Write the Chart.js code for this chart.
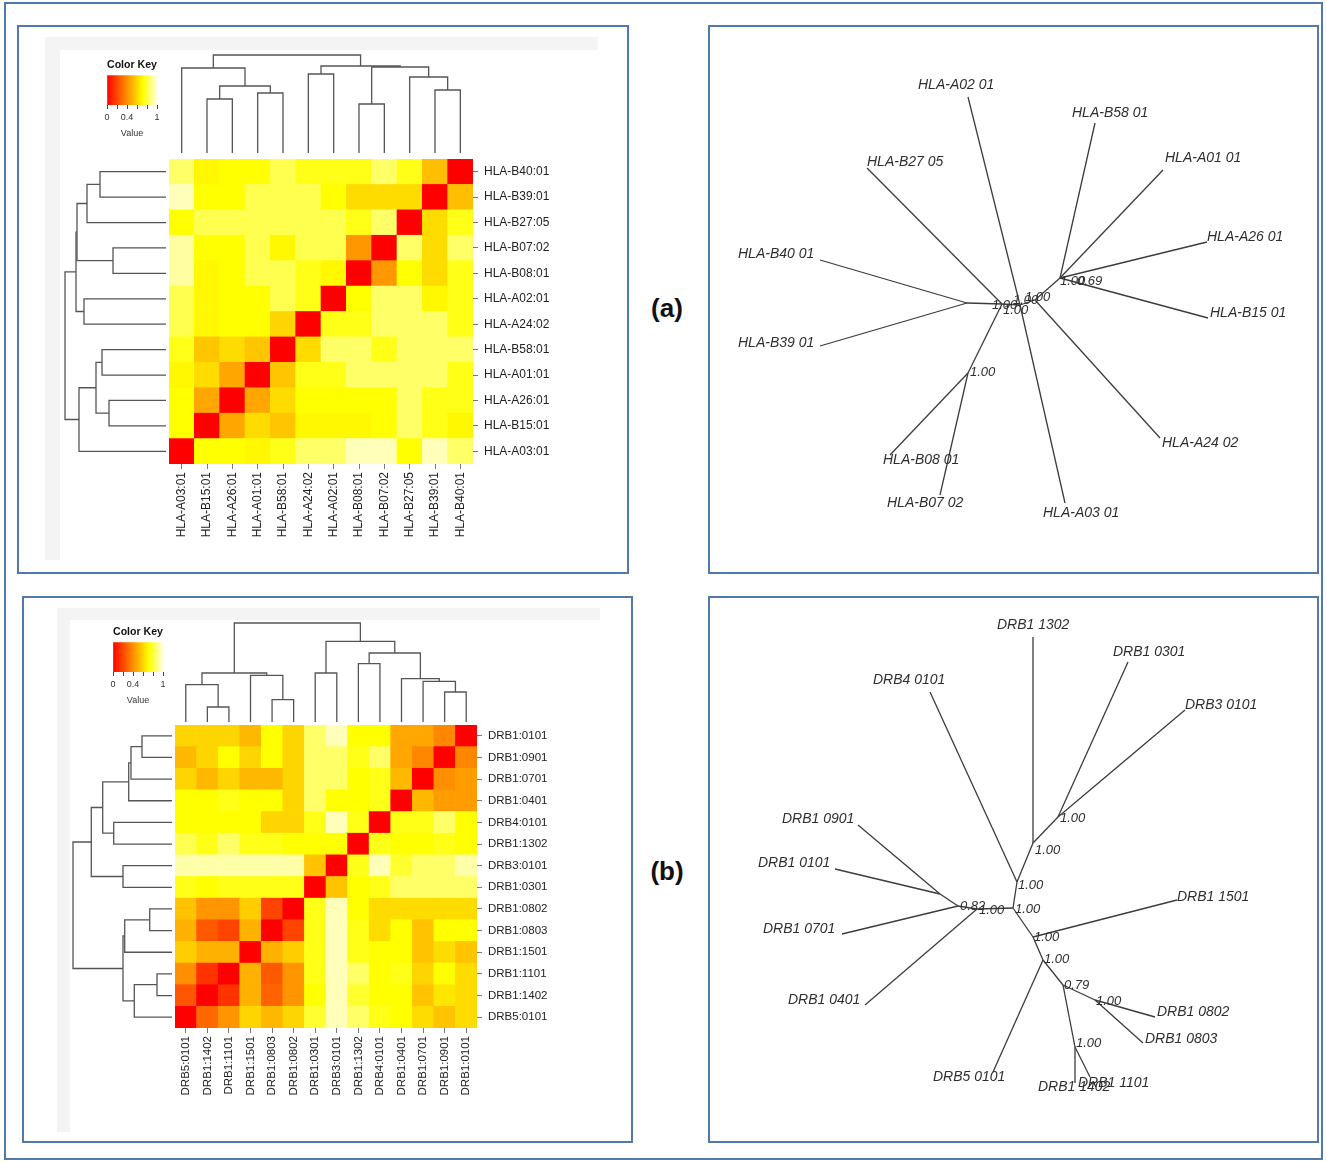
<!DOCTYPE html>
<html>
<head>
<meta charset="utf-8">
<script src="https://cdn.jsdelivr.net/npm/chart.js@4.4.0/dist/chart.umd.min.js"></script>
<style>
body { margin: 0; width: 1327px; height: 1162px; position: relative; overflow: hidden; background: #fff; font-family: "Liberation Sans", Arial, sans-serif; }
.box { position: absolute; border: 2px solid #5279ad; box-sizing: border-box; }
.abs { position: absolute; }
canvas { position: absolute; display: block; }
.tag { position: absolute; width: 60px; text-align: center; font: bold 26px "Liberation Sans", Arial, sans-serif; color: #111; }
</style>
</head>
<body>
<div class="box" style="left:4px;top:2px;width:1319px;height:1158px"></div>

<div class="abs" style="left:45px;top:37px;width:553px;height:523px;background:#f4f4f4"></div>
<div class="abs" style="left:60px;top:50px;width:538px;height:510px;background:#fff"></div>
<div class="abs" style="left:57px;top:608px;width:543px;height:524px;background:#f4f4f4"></div>
<div class="abs" style="left:70px;top:620px;width:530px;height:512px;background:#fff"></div>

<div class="box" style="left:17px;top:25px;width:612px;height:549px"></div>
<div class="box" style="left:708px;top:25px;width:611px;height:549px"></div>
<div class="box" style="left:22px;top:596px;width:611px;height:547px"></div>
<div class="box" style="left:708px;top:596px;width:611px;height:547px"></div>

<div class="tag" style="left:637px;top:293px">(a)</div>
<div class="tag" style="left:637px;top:856px">(b)</div>

<canvas id="keyA" width="70" height="81" style="left:97px;top:58px"></canvas>
<canvas id="topA" width="304" height="108" style="left:169px;top:45px"></canvas>
<canvas id="leftA" width="106" height="305" style="left:60px;top:159px"></canvas>
<canvas id="heatA" width="424" height="405" style="left:169px;top:159px"></canvas>
<canvas id="treeA" width="610" height="548" style="left:708px;top:25px"></canvas>

<canvas id="keyB" width="70" height="81" style="left:103px;top:625px"></canvas>
<canvas id="topB" width="302" height="109" style="left:175px;top:613px"></canvas>
<canvas id="leftB" width="104" height="303" style="left:68px;top:725px"></canvas>
<canvas id="heatB" width="422" height="403" style="left:175px;top:725px"></canvas>
<canvas id="treeB" width="610" height="546" style="left:708px;top:596px"></canvas>

<script>
// ---- (a) HLA class I ----
const hlaRows = ['HLA-B40:01', 'HLA-B39:01', 'HLA-B27:05', 'HLA-B07:02', 'HLA-B08:01', 'HLA-A02:01',
  'HLA-A24:02', 'HLA-B58:01', 'HLA-A01:01', 'HLA-A26:01', 'HLA-B15:01', 'HLA-A03:01'];
const hlaCols = ['HLA-A03:01', 'HLA-B15:01', 'HLA-A26:01', 'HLA-A01:01', 'HLA-B58:01', 'HLA-A24:02',
  'HLA-A02:01', 'HLA-B08:01', 'HLA-B07:02', 'HLA-B27:05', 'HLA-B39:01', 'HLA-B40:01'];
const hlaVals = [
  [0.85, 0.70, 0.72, 0.72, 0.82, 0.75, 0.75, 0.75, 0.85, 0.75, 0.54, 0],
  [0.95, 0.72, 0.72, 0.82, 0.82, 0.82, 0.72, 0.62, 0.62, 0.62, 0, 0.54],
  [0.72, 0.82, 0.82, 0.82, 0.82, 0.82, 0.82, 0.75, 0.85, 0, 0.62, 0.75],
  [0.92, 0.72, 0.72, 0.82, 0.70, 0.82, 0.82, 0.43, 0, 0.85, 0.62, 0.85],
  [0.92, 0.70, 0.72, 0.82, 0.82, 0.75, 0.70, 0, 0.43, 0.72, 0.62, 0.75],
  [0.82, 0.70, 0.72, 0.72, 0.82, 0.75, 0, 0.72, 0.85, 0.85, 0.70, 0.75],
  [0.82, 0.70, 0.72, 0.72, 0.60, 0, 0.75, 0.75, 0.85, 0.85, 0.85, 0.75],
  [0.75, 0.56, 0.62, 0.56, 0, 0.62, 0.85, 0.85, 0.75, 0.85, 0.85, 0.85],
  [0.70, 0.62, 0.47, 0, 0.56, 0.75, 0.75, 0.85, 0.85, 0.85, 0.85, 0.75],
  [0.72, 0.47, 0, 0.47, 0.62, 0.72, 0.72, 0.72, 0.72, 0.85, 0.75, 0.75],
  [0.72, 0, 0.47, 0.62, 0.56, 0.70, 0.70, 0.70, 0.72, 0.85, 0.75, 0.70],
  [0, 0.72, 0.72, 0.70, 0.75, 0.85, 0.85, 0.95, 0.95, 0.72, 0.95, 0.85]
];
// dendrogram merges (negative = leaf index) and merge heights
const hlaColMerge = [[-2, -3], [-4, -5], [1, 2], [-1, 3], [-6, -7], [-8, -9], [-11, -12], [-10, 7], [6, 8], [5, 9], [4, 10]];
const hlaColHeight = [54, 60, 67, 85, 79, 49, 63, 76, 86, 87, 98];
const hlaRowMerge = [[-1, -2], [1, -3], [-4, -5], [2, 3], [-6, -7], [4, 5], [-8, -9], [-10, -11], [7, 8], [9, -12], [6, 10]];
const hlaRowHeight = [66, 79, 53, 89, 82, 90, 64, 57, 70, 87, 101];

const hlaTreeNodes = {
  A02: [26.0, 7.2], B27: [15.9, 14.3], B40: [11.2, 23.5], B39: [11.2, 32.1], B08: [18.2, 43.0],
  B07: [23.2, 47.0], A03: [35.7, 47.8], A24: [45.2, 41.3], B15: [50.0, 29.3], A26: [49.9, 21.7],
  A01: [45.5, 14.5], B58: [38.7, 9.8],
  n1: [25.9, 27.8], n2: [29.4, 27.9], n3: [31.2, 28.0], n4: [32.7, 27.5], n5: [26.0, 34.8], n6: [35.2, 25.3]
};
const hlaTreeEdges = [['B40', 'n1'], ['B39', 'n1'], ['n1', 'n2'], ['B27', 'n2'], ['n5', 'n2'], ['B08', 'n5'],
  ['B07', 'n5'], ['n2', 'n3'], ['A02', 'n3'], ['n3', 'A03'], ['n3', 'n4'], ['n4', 'A24'], ['n4', 'n6'],
  ['n6', 'B58'], ['n6', 'A01'], ['n6', 'A26'], ['n6', 'B15']];
const hlaTreeTips = [['HLA-A02 01', 21.0, 6.0], ['HLA-B27 05', 15.9, 13.7], ['HLA-B40 01', 3.0, 22.9],
  ['HLA-B39 01', 3.0, 31.8], ['HLA-B08 01', 17.5, 43.5], ['HLA-B07 02', 17.9, 47.8], ['HLA-A03 01', 33.5, 48.8],
  ['HLA-A24 02', 45.4, 41.8], ['HLA-B15 01', 50.2, 28.8], ['HLA-A26 01', 49.9, 21.2], ['HLA-A01 01', 45.7, 13.3],
  ['HLA-B58 01', 36.4, 8.8]];
const hlaTreeBoot = [['1.00', 26.2, 34.7], ['1.00', 28.4, 28.0], ['1.00', 29.5, 28.5], ['1.00', 30.5, 27.5],
  ['1.00', 31.7, 27.2], ['1.00', 35.2, 25.6], ['0.69', 36.9, 25.6]];

// ---- (b) HLA-DR ----
const drbRows = ['DRB1:0101', 'DRB1:0901', 'DRB1:0701', 'DRB1:0401', 'DRB4:0101', 'DRB1:1302', 'DRB3:0101',
  'DRB1:0301', 'DRB1:0802', 'DRB1:0803', 'DRB1:1501', 'DRB1:1101', 'DRB1:1402', 'DRB5:0101'];
const drbCols = ['DRB5:0101', 'DRB1:1402', 'DRB1:1101', 'DRB1:1501', 'DRB1:0803', 'DRB1:0802', 'DRB1:0301',
  'DRB3:0101', 'DRB1:1302', 'DRB4:0101', 'DRB1:0401', 'DRB1:0701', 'DRB1:0901', 'DRB1:0101'];
const drbVals = [
  [0.60, 0.60, 0.60, 0.52, 0.72, 0.60, 0.85, 0.95, 0.72, 0.72, 0.47, 0.47, 0.38, 0],
  [0.52, 0.60, 0.72, 0.60, 0.72, 0.60, 0.85, 0.85, 0.75, 0.85, 0.47, 0.38, 0, 0.38],
  [0.60, 0.52, 0.60, 0.52, 0.52, 0.60, 0.85, 0.85, 0.72, 0.75, 0.52, 0, 0.40, 0.44],
  [0.72, 0.72, 0.75, 0.72, 0.72, 0.60, 0.85, 0.72, 0.72, 0.75, 0, 0.52, 0.44, 0.44],
  [0.72, 0.72, 0.72, 0.72, 0.60, 0.60, 0.75, 0.95, 0.75, 0, 0.75, 0.75, 0.85, 0.72],
  [0.82, 0.75, 0.85, 0.75, 0.75, 0.72, 0.72, 0.72, 0, 0.75, 0.72, 0.72, 0.75, 0.72],
  [0.93, 0.93, 0.93, 0.93, 0.93, 0.93, 0.55, 0, 0.75, 0.95, 0.78, 0.85, 0.85, 0.93],
  [0.75, 0.72, 0.75, 0.75, 0.75, 0.75, 0, 0.55, 0.72, 0.75, 0.85, 0.85, 0.85, 0.85],
  [0.55, 0.42, 0.42, 0.58, 0.19, 0, 0.75, 0.95, 0.72, 0.62, 0.62, 0.62, 0.62, 0.62],
  [0.50, 0.25, 0.19, 0.50, 0, 0.19, 0.75, 0.95, 0.75, 0.62, 0.72, 0.55, 0.72, 0.72],
  [0.58, 0.50, 0.50, 0, 0.50, 0.58, 0.75, 0.95, 0.75, 0.72, 0.72, 0.55, 0.62, 0.55],
  [0.40, 0.14, 0, 0.50, 0.25, 0.42, 0.75, 0.95, 0.85, 0.72, 0.75, 0.60, 0.72, 0.62],
  [0.24, 0, 0.14, 0.50, 0.28, 0.42, 0.72, 0.95, 0.78, 0.72, 0.72, 0.55, 0.65, 0.62],
  [0, 0.29, 0.42, 0.60, 0.52, 0.60, 0.78, 0.95, 0.85, 0.75, 0.72, 0.62, 0.55, 0.62]
];
const drbColMerge = [[-2, -3], [-1, 1], [-5, -6], [-4, 3], [2, 4], [-7, -8], [-9, -10], [-13, -14], [-12, 8], [-11, 9], [7, 10], [6, 11], [5, 12]];
const drbColHeight = [15, 37.3, 22.3, 46.7, 49, 49, 58.3, 30, 40.7, 43.3, 69, 80.7, 99];
const drbRowMerge = [[-1, -2], [1, -3], [2, -4], [-5, -6], [3, 4], [-7, -8], [5, 6], [-9, -10], [8, -11], [-12, -13], [10, -14], [9, 11], [7, 12]];
const drbRowHeight = [30, 41, 43.3, 58.3, 69.3, 49, 80.7, 22.3, 47.3, 15, 37.7, 49, 99];

const drbTreeNodes = {
  T1302: [32.5, 4.1], T0301: [42.0, 6.6], DRB3: [47.7, 11.4], DRB4: [22.2, 9.6], T0901: [15.0, 22.9],
  T0101: [12.7, 27.3], T0701: [13.4, 33.8], T0401: [15.7, 40.9], T1501: [46.9, 30.4], DRB5: [28.5, 47.6],
  T0802: [44.7, 42.1], T0803: [43.5, 44.7], T1402: [36.7, 48.7], T1101: [38.2, 48.1],
  a: [32.5, 24.7], b: [35.0, 22.1], c: [30.9, 28.6], d: [30.5, 31.2], e: [26.9, 31.3], f: [25.0, 31.0],
  g: [23.2, 29.8], h: [32.5, 34.1], i: [33.5, 36.4], j: [35.5, 38.9], k: [38.7, 40.4], l: [36.7, 45.1]
};
const drbTreeEdges = [['T1302', 'a'], ['T0301', 'b'], ['DRB3', 'b'], ['b', 'a'], ['a', 'c'], ['DRB4', 'c'],
  ['c', 'd'], ['d', 'e'], ['e', 'f'], ['T0401', 'e'], ['f', 'g'], ['T0901', 'g'], ['T0101', 'g'], ['T0701', 'f'],
  ['d', 'h'], ['T1501', 'h'], ['h', 'i'], ['DRB5', 'i'], ['i', 'j'], ['j', 'k'], ['k', 'T0802'], ['k', 'T0803'],
  ['j', 'l'], ['l', 'T1402'], ['l', 'T1101']];
const drbTreeTips = [['DRB1 1302', 28.9, 2.9], ['DRB1 0301', 40.5, 5.6], ['DRB3 0101', 47.7, 10.9],
  ['DRB4 0101', 16.5, 8.4], ['DRB1 0901', 7.4, 22.3], ['DRB1 0101', 5.0, 26.7], ['DRB1 0701', 5.5, 33.3],
  ['DRB1 0401', 8.0, 40.4], ['DRB1 1501', 46.9, 30.1], ['DRB1 0802', 44.9, 41.6], ['DRB1 0803', 43.7, 44.3],
  ['DRB5 0101', 22.5, 48.1], ['DRB1 1402', 33.0, 49.1], ['DRB1 1101', 37.0, 48.7]];
const drbTreeBoot = [['1.00', 35.2, 22.2], ['1.00', 32.7, 25.4], ['1.00', 31.0, 28.9], ['1.00', 30.7, 31.3],
  ['1.00', 27.1, 31.4], ['0.82', 25.2, 31.0], ['1.00', 32.6, 34.1], ['1.00', 33.6, 36.3], ['0.79', 35.6, 38.9],
  ['1.00', 38.8, 40.5], ['1.00', 36.8, 44.7]];

const keyStops = [[0, '#ff0000'], [0.36, '#ff8000'], [0.72, '#ffff00'], [1, '#ffffe0']];
const keyTicks = [0, 0.4, 1];

const FONT = '"Liberation Sans", Arial, Helvetica, sans-serif';
Chart.defaults.font.family = FONT;
Chart.defaults.animation = false;
Chart.defaults.events = [];
Chart.defaults.plugins.legend.display = false;
Chart.defaults.plugins.tooltip.enabled = false;

function heat(v) {
  if (v <= 0.72) return 'rgb(255,' + Math.round(255 * v / 0.72) + ',0)';
  return 'rgb(255,255,' + Math.round(Math.min(1, (v - 0.72) / 0.28) * 225) + ')';
}

function heatmap(id, rows, cols, vals, size) {
  const tickGrid = { offset: false, drawOnChartArea: false, tickLength: 5, color: '#777' };
  new Chart(document.getElementById(id), {
    type: 'bar',
    data: {
      labels: cols,
      datasets: rows.map((r, i) => ({
        label: r,
        data: cols.map(() => 1),
        backgroundColor: vals[i].map(heat),
        borderWidth: 0,
        barPercentage: 1,
        categoryPercentage: 1
      })).reverse()
    },
    options: {
      responsive: false,
      layout: { padding: 0 },
      scales: {
        x: {
          stacked: true, offset: true, grid: tickGrid, border: { display: false },
          ticks: { autoSkip: false, minRotation: 90, maxRotation: 90, padding: 3, color: '#222', font: { size: size } },
          afterFit: s => { s.height = 100; s.paddingLeft = 0; s.paddingRight = 0; }
        },
        y: { stacked: true, display: false, min: 0, max: rows.length },
        yl: {
          type: 'category', labels: rows, position: 'right', offset: true, grid: tickGrid, border: { display: false },
          ticks: { autoSkip: false, padding: 6, color: '#222', font: { size: size } },
          afterFit: s => { s.width = 120; s.paddingTop = 0; s.paddingBottom = 0; }
        }
      }
    }
  });
}

function dendro(id, merges, heights, n, hmax, sideways) {
  const nodes = [];
  const at = c => c < 0 ? { p: -c, h: 0 } : nodes[c - 1];
  const sets = merges.map(([a, b], k) => {
    const A = at(a), B = at(b), h = heights[k];
    nodes.push({ p: (A.p + B.p) / 2, h: h });
    const pts = [[A.p, A.h], [A.p, h], [B.p, h], [B.p, B.h]];
    return {
      data: pts.map(([p, v]) => sideways ? { x: v, y: p } : { x: p, y: v }),
      showLine: true, pointRadius: 0, borderColor: '#555', borderWidth: 1.3
    };
  });
  const pos = { min: 0.5, max: n + 0.5, display: false, reverse: sideways };
  const hgt = { min: 0, max: hmax, display: false, reverse: sideways };
  new Chart(document.getElementById(id), {
    type: 'scatter',
    data: { datasets: sets },
    options: { responsive: false, layout: { padding: 0 }, scales: sideways ? { x: hgt, y: pos } : { x: pos, y: hgt } }
  });
}

function colorKey(id) {
  new Chart(document.getElementById(id), {
    type: 'bar',
    data: {
      labels: [''],
      datasets: [{
        data: [[0, 1]],
        backgroundColor: c => {
          const a = c.chart.chartArea;
          if (!a) return '#ff0';
          const g = c.chart.ctx.createLinearGradient(a.left, 0, a.right, 0);
          keyStops.forEach(([s, col]) => g.addColorStop(s, col));
          return g;
        },
        borderWidth: 0, barPercentage: 1, categoryPercentage: 1
      }]
    },
    options: {
      indexAxis: 'y',
      responsive: false,
      layout: { padding: { left: 10, right: 10, top: 0, bottom: 0 } },
      plugins: {
        title: { display: true, text: 'Color Key', color: '#111', font: { size: 11, weight: 'bold' }, padding: { top: 0, bottom: 4 } }
      },
      scales: {
        y: { display: false },
        x: {
          min: 0, max: 1,
          grid: { drawOnChartArea: false, tickLength: 4, color: '#444' },
          border: { display: false },
          ticks: {
            stepSize: 0.2, padding: 3, color: '#333', font: { size: 9 },
            autoSkip: false, minRotation: 0, maxRotation: 0,
            callback: v => { const r = Math.round(v * 10) / 10; return keyTicks.includes(r) ? String(r) : ''; }
          },
          title: { display: true, text: 'Value', color: '#333', font: { size: 9 }, padding: { top: 2, bottom: 0 } },
          afterFit: s => { s.height = 34; s.paddingLeft = 0; s.paddingRight = 0; }
        }
      }
    }
  });
}

function tree(id, nodes, edges, tips, boots, xmax, ymax) {
  const sets = edges.map(([a, b]) => ({
    data: [{ x: nodes[a][0], y: nodes[a][1] }, { x: nodes[b][0], y: nodes[b][1] }],
    showLine: true, pointRadius: 0, borderColor: '#3c3c3c', borderWidth: 1.3
  }));
  const labels = {
    id: 'treeLabels',
    afterDatasetsDraw(chart) {
      const { ctx, scales: { x, y } } = chart;
      ctx.save();
      ctx.fillStyle = '#2e2e2e';
      ctx.textBaseline = 'middle';
      ctx.textAlign = 'left';
      ctx.font = 'italic 14px ' + FONT;
      tips.forEach(([t, u, v]) => ctx.fillText(t, x.getPixelForValue(u), y.getPixelForValue(v)));
      ctx.font = 'italic 13px ' + FONT;
      boots.forEach(([t, u, v]) => ctx.fillText(t, x.getPixelForValue(u), y.getPixelForValue(v)));
      ctx.restore();
    }
  };
  new Chart(document.getElementById(id), {
    type: 'scatter',
    data: { datasets: sets },
    options: {
      responsive: false,
      layout: { padding: 0 },
      scales: { x: { min: 0, max: xmax, display: false }, y: { min: 0, max: ymax, reverse: true, display: false } }
    },
    plugins: [labels]
  });
}

colorKey('keyA');
dendro('topA', hlaColMerge, hlaColHeight, hlaCols.length, 108, false);
dendro('leftA', hlaRowMerge, hlaRowHeight, hlaRows.length, 106, true);
heatmap('heatA', hlaRows, hlaCols, hlaVals, 12);
tree('treeA', hlaTreeNodes, hlaTreeEdges, hlaTreeTips, hlaTreeBoot, 61, 54.8);

colorKey('keyB');
dendro('topB', drbColMerge, drbColHeight, drbCols.length, 109, false);
dendro('leftB', drbRowMerge, drbRowHeight, drbRows.length, 104, true);
heatmap('heatB', drbRows, drbCols, drbVals, 11.5);
tree('treeB', drbTreeNodes, drbTreeEdges, drbTreeTips, drbTreeBoot, 61, 54.6);
</script>
</body>
</html>
